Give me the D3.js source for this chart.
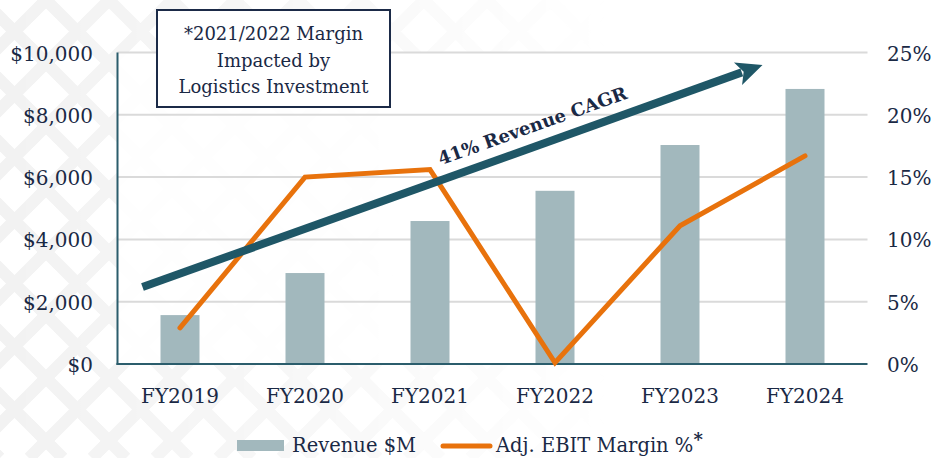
<!DOCTYPE html>
<html><head><meta charset="utf-8">
<script src="https://cdn.jsdelivr.net/npm/d3@7"></script>
<style>
body{margin:0;background:#fff}
text{font-family:"DejaVu Serif",serif;fill:#1a2945}
</style>
</head><body>
<svg id="c" width="938" height="458"></svg>
<script>
const categories = ["FY2019","FY2020","FY2021","FY2022","FY2023","FY2024"];
const revenue = [1570, 2920, 4590, 5560, 7030, 8830];
const ebitMargin = [2.9, 15.0, 15.6, 0.1, 11.1, 16.7];
const revenueTicks = [0, 2000, 4000, 6000, 8000, 10000];
const marginTicks = [0, 5, 10, 15, 20, 25];
const noteLines = ["*2021/2022 Margin", "Impacted by", "Logistics Investment"];
const cagrLabel = "41% Revenue CAGR";
const arrowFrom = {cat: "FY2019", offset: -0.30, value: 2470};
const arrowTo = {cat: "FY2024", offset: -0.34, value: 9600};
const legendLabels = ["Revenue $M", "Adj. EBIT Margin %"];

const W = 938, H = 458;
const L = 117.5, R = 867.5, B = 364, T = 52.5;
const svg = d3.select("#c");
const defs = svg.append("defs");

// background lattice
const grad = defs.append("linearGradient").attr("id","fade").attr("x1","0").attr("x2","1").attr("y1","0").attr("y2","0");
grad.append("stop").attr("offset","0").attr("stop-color","#fff").attr("stop-opacity",1);
grad.append("stop").attr("offset","0.3").attr("stop-color","#fff").attr("stop-opacity",0.6);
grad.append("stop").attr("offset","0.65").attr("stop-color","#fff").attr("stop-opacity",0);
const mask = defs.append("mask").attr("id","m");
mask.append("rect").attr("width",W).attr("height",H).attr("fill","url(#fade)");
const lat = svg.append("g").attr("mask","url(#m)");
const period = 63;
for (let c = -H; c < W + H; c += period) {
  lat.append("line").attr("x1",c).attr("y1",0).attr("x2",c+H).attr("y2",H)
    .attr("stroke","#f2f2f2").attr("stroke-width",12);
  lat.append("line").attr("x1",c).attr("y1",0).attr("x2",c-H).attr("y2",H)
    .attr("stroke","#f2f2f2").attr("stroke-width",12);
}
svg.append("rect").attr("x",L).attr("y",T).attr("width",R-L).attr("height",B-T)
  .attr("fill","#fff").attr("opacity",0.85);

const x = d3.scaleBand().domain(categories).range([L, R]).paddingInner(0.688).paddingOuter(0.344);
const cx = c => x(c) + x.bandwidth()/2;
const y = d3.scaleLinear().domain([0, 10000]).range([B, T]);
const y2 = d3.scaleLinear().domain([0, 25]).range([B, T]);

// gridlines
svg.append("g").selectAll("line").data(revenueTicks.filter(d => d > 0)).join("line")
  .attr("x1", L).attr("x2", R).attr("y1", d => y(d)).attr("y2", d => y(d))
  .attr("stroke", "#dadada").attr("stroke-width", 2);

// left axis labels
const fmt = d => "$" + d3.format(",")(d);
svg.append("g").selectAll("text").data(revenueTicks).join("text")
  .attr("x", 93).attr("y", d => y(d) + 8).attr("text-anchor","end")
  .attr("font-size", 20).text(fmt);
// right axis labels
svg.append("g").selectAll("text").data(marginTicks).join("text")
  .attr("x", 887).attr("y", d => y2(d) + 8).attr("text-anchor","start")
  .attr("font-size", 20).text(d => d + "%");

// bars
svg.append("g").selectAll("rect").data(revenue).join("rect")
  .attr("x", (d,i) => x(categories[i])).attr("width", x.bandwidth())
  .attr("y", d => y(d)).attr("height", d => B - y(d))
  .attr("fill", "#a2b8bd");

// axis lines
svg.append("line").attr("x1", L).attr("x2", L).attr("y1", T).attr("y2", B+1)
  .attr("stroke","#2b5d6c").attr("stroke-width",2);
svg.append("line").attr("x1", L-1).attr("x2", R).attr("y1", B).attr("y2", B)
  .attr("stroke","#2b5d6c").attr("stroke-width",2);

// category labels
svg.append("g").selectAll("text").data(categories).join("text")
  .attr("x", d => cx(d)).attr("y", 403).attr("text-anchor","middle")
  .attr("font-size", 20).text(d => d);

// margin line
const line = d3.line().x((d,i) => cx(categories[i])).y(d => y2(d));
svg.append("path").datum(ebitMargin).attr("d", line)
  .attr("fill","none").attr("stroke","#e8720c").attr("stroke-width",5)
  .attr("stroke-linecap","round").attr("stroke-linejoin","miter");

// CAGR arrow
const p0 = [cx(arrowFrom.cat) + arrowFrom.offset * x.step(), y(arrowFrom.value)];
const p1 = [cx(arrowTo.cat) + arrowTo.offset * x.step(), y(arrowTo.value)];
const dx = p1[0]-p0[0], dy = p1[1]-p0[1], len = Math.hypot(dx, dy);
const u = [dx/len, dy/len], n = [u[1], -u[0]];
const headL = 26, headW = 12;
const lineEnd = [p1[0] - u[0]*(headL-4), p1[1] - u[1]*(headL-4)];
svg.append("line").attr("x1", p0[0]).attr("y1", p0[1]).attr("x2", lineEnd[0]).attr("y2", lineEnd[1])
  .attr("stroke","#1f5767").attr("stroke-width",8);
const hb = [p1[0]-u[0]*headL, p1[1]-u[1]*headL];
svg.append("polygon").attr("points", [
  p1,
  [hb[0]+n[0]*headW, hb[1]+n[1]*headW],
  [p1[0]-u[0]*(headL-6), p1[1]-u[1]*(headL-6)],
  [hb[0]-n[0]*headW, hb[1]-n[1]*headW]
].map(p => p.join(",")).join(" ")).attr("fill","#1f5767");
const ang = Math.atan2(dy, dx) * 180 / Math.PI;
const tPos = [p0[0] + dx*0.64, p0[1] + dy*0.64];
const up = [u[1], -u[0]];
const lab = [tPos[0] + up[0]*14, tPos[1] + up[1]*14];
svg.append("text").attr("transform", `translate(${lab[0]},${lab[1]}) rotate(${ang})`)
  .attr("text-anchor","middle").attr("font-size",18).attr("font-weight","bold")
  .text(cagrLabel);

// note box
svg.append("rect").attr("x",157).attr("y",10).attr("width",233).attr("height",97)
  .attr("fill","#fff").attr("stroke","#1b2a47").attr("stroke-width",2);
svg.append("g").selectAll("text").data(noteLines).join("text")
  .attr("x", 273.5).attr("y", (d,i) => 40 + i*26.5).attr("text-anchor","middle")
  .attr("font-size",18).text(d => d);

// legend
svg.append("rect").attr("x",237).attr("y",440).attr("width",47).attr("height",11).attr("fill","#a2b8bd");
svg.append("text").attr("x",292).attr("y",452).attr("font-size",19.5).text(legendLabels[0]);
svg.append("line").attr("x1",443).attr("x2",490).attr("y1",446).attr("y2",446)
  .attr("stroke","#e8720c").attr("stroke-width",5).attr("stroke-linecap","round");
const lt = svg.append("text").attr("x",496).attr("y",452).attr("font-size",19.5).text(legendLabels[1]);
lt.append("tspan").attr("dy",-6).attr("font-size",18).attr("font-weight","bold").text("*");
</script>
</body></html>
